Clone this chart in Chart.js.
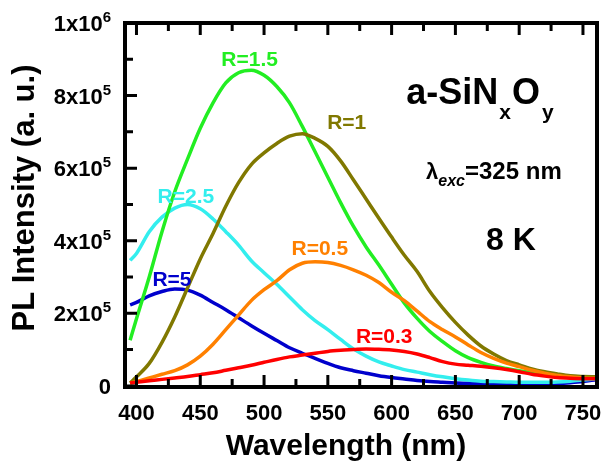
<!DOCTYPE html>
<html>
<head>
<meta charset="utf-8">
<script src="https://cdn.jsdelivr.net/npm/chart.js@4"></script>
<style>
  body { margin: 0; background: #fff; }
  canvas { display: block; }
</style>
</head>
<body>
<canvas id="plChart" width="604" height="463"></canvas>
<script>
// PL spectra of a-SiNxOy films at 8 K, intensities in units of 1e5 (a. u.)
const wavelengths = [395, 400, 410, 420, 430, 440, 450, 460, 470, 480, 490, 500, 510, 520, 530, 540, 550, 560, 570,
  580, 590, 600, 610, 620, 630, 640, 650, 660, 670, 680, 690, 700, 710, 720, 730, 740, 750, 760];

const r03 = [0.08, 0.10, 0.14, 0.18, 0.22, 0.26, 0.31, 0.36, 0.43, 0.50, 0.57, 0.65, 0.73, 0.80, 0.85, 0.90, 0.95, 0.98, 1.00,
  1.02, 1.01, 0.99, 0.95, 0.88, 0.78, 0.67, 0.60, 0.57, 0.54, 0.50, 0.45, 0.39, 0.32, 0.27, 0.23, 0.21, 0.20, 0.20];
const r05 = [0.08, 0.12, 0.22, 0.32, 0.42, 0.58, 0.82, 1.15, 1.55, 1.95, 2.35, 2.65, 2.90, 3.20, 3.38, 3.42, 3.40, 3.32, 3.20,
  3.05, 2.85, 2.58, 2.35, 2.06, 1.77, 1.55, 1.35, 1.13, 0.92, 0.76, 0.63, 0.53, 0.43, 0.35, 0.29, 0.25, 0.22, 0.21];
const r1 = [0.08, 0.25, 0.62, 1.20, 1.90, 2.70, 3.50, 4.20, 4.95, 5.60, 6.10, 6.42, 6.68, 6.88, 6.95, 6.82, 6.60, 6.20, 5.68,
  5.15, 4.62, 4.10, 3.60, 3.15, 2.60, 2.15, 1.75, 1.40, 1.10, 0.88, 0.70, 0.58, 0.47, 0.39, 0.33, 0.28, 0.26, 0.25];
const r15 = [1.26, 1.85, 3.00, 4.25, 5.35, 6.25, 7.10, 7.80, 8.35, 8.63, 8.70, 8.56, 8.25, 7.80, 7.15, 6.45, 5.75, 5.05, 4.40,
  3.83, 3.33, 2.80, 2.28, 1.86, 1.50, 1.22, 0.97, 0.78, 0.65, 0.55, 0.48, 0.42, 0.37, 0.33, 0.29, 0.26, 0.24, 0.23];
const r25 = [3.46, 3.65, 4.25, 4.65, 4.90, 5.00, 4.88, 4.60, 4.25, 3.88, 3.45, 3.12, 2.80, 2.45, 2.10, 1.80, 1.55, 1.28, 1.02,
  0.82, 0.66, 0.55, 0.45, 0.38, 0.31, 0.25, 0.20, 0.16, 0.13, 0.12, 0.11, 0.10, 0.10, 0.10, 0.11, 0.13, 0.16, 0.20];
const r5 = [2.23, 2.30, 2.48, 2.60, 2.67, 2.64, 2.50, 2.30, 2.10, 1.88, 1.66, 1.45, 1.25, 1.05, 0.90, 0.76, 0.62, 0.50, 0.42,
  0.35, 0.28, 0.23, 0.19, 0.15, 0.12, 0.10, 0.08, 0.07, 0.06, 0.06, 0.06, 0.06, 0.06, 0.06, 0.07, 0.09, 0.12, 0.17];

const seriesNames = ['R=0.3', 'R=0.5', 'R=1', 'R=1.5', 'R=2.5', 'R=5'];
const seriesValues = [r03, r05, r1, r15, r25, r5];
const seriesColors = ['#ff0000', '#ff8000', '#807800', '#22ee22', '#33eeee', '#0000cc'];

const xMajorTicks = [400, 450, 500, 550, 600, 650, 700, 750];
const xMinorTicks = [425, 475, 525, 575, 625, 675, 725];
const yMajorTicks = [0, 2e5, 4e5, 6e5, 8e5, 1e6];
const yMinorTicks = [1e5, 3e5, 5e5, 7e5, 9e5];

// curve labels anchored in data coordinates (left, baseline)
const curveLabels = [
  { text: 'R=1.5', x: 466.5, y: 8.82e5, color: '#22ee22' },
  { text: 'R=1', x: 549.5, y: 7.09e5, color: '#807800' },
  { text: 'R=2.5', x: 416.5, y: 5.05e5, color: '#33eeee' },
  { text: 'R=5', x: 412.5, y: 2.75e5, color: '#0000cc' },
  { text: 'R=0.5', x: 521.5, y: 3.6e5, color: '#ff8000' },
  { text: 'R=0.3', x: 572, y: 1.18e5, color: '#ff0000' }
];

const FONT = '"Liberation Sans", Arial, sans-serif';

const datasets = seriesValues.map((vals, i) => ({
  label: seriesNames[i],
  data: vals.map((v, j) => ({ x: wavelengths[j], y: v * 1e5 })),
  borderColor: seriesColors[i],
  borderWidth: 3.5,
  pointRadius: 0,
  fill: false,
  cubicInterpolationMode: 'monotone'
}));

// frame, inward ticks, tick labels, titles and annotations
const framePlugin = {
  id: 'framePlugin',
  afterDatasetsDraw(chart) {
    const { ctx, chartArea: a, scales: { x, y } } = chart;
    ctx.save();
    ctx.fillStyle = '#000';
    ctx.strokeStyle = '#000';

    // curve labels
    ctx.font = 'bold 21px ' + FONT;
    ctx.textAlign = 'left';
    ctx.textBaseline = 'alphabetic';
    curveLabels.forEach(l => {
      ctx.fillStyle = l.color;
      ctx.fillText(l.text, x.getPixelForValue(l.x), y.getPixelForValue(l.y));
    });

    // sample annotations
    ctx.fillStyle = '#000';
    let px = x.getPixelForValue(611.5), py = y.getPixelForValue(7.77e5);
    ctx.font = 'bold 36px ' + FONT;
    ctx.fillText('a-SiN', px, py); px += ctx.measureText('a-SiN').width;
    ctx.font = 'bold 21px ' + FONT;
    ctx.fillText('x', px + 1, py + 15); px += ctx.measureText('x').width + 2;
    ctx.font = 'bold 36px ' + FONT;
    ctx.fillText('O', px, py); px += ctx.measureText('O').width + 2;
    ctx.font = 'bold 21px ' + FONT;
    ctx.fillText('y', px, py + 15);

    px = x.getPixelForValue(627); py = y.getPixelForValue(5.71e5);
    ctx.font = 'bold 22px ' + FONT;
    ctx.fillText('λ', px, py); px += ctx.measureText('λ').width;
    ctx.font = 'italic bold 16px ' + FONT;
    ctx.fillText('exc', px, py + 7); px += ctx.measureText('exc').width;
    ctx.font = 'bold 24px ' + FONT;
    ctx.fillText('=325 nm', px, py);

    ctx.font = 'bold 32px ' + FONT;
    ctx.fillText('8 K', x.getPixelForValue(674), y.getPixelForValue(3.74e5));

    // frame
    ctx.lineWidth = 4;
    ctx.strokeRect(a.left, a.top, a.right - a.left, a.bottom - a.top);

    // ticks
    ctx.lineWidth = 3;
    ctx.beginPath();
    const xt = (v, len) => {
      const p = x.getPixelForValue(v);
      ctx.moveTo(p, a.bottom); ctx.lineTo(p, a.bottom - len);
      ctx.moveTo(p, a.top); ctx.lineTo(p, a.top + len);
    };
    xMajorTicks.forEach(v => xt(v, 12));
    xMinorTicks.forEach(v => xt(v, 8));
    const yt = (v, len) => {
      const p = y.getPixelForValue(v);
      ctx.moveTo(a.left, p); ctx.lineTo(a.left + len, p);
    };
    yMajorTicks.forEach(v => yt(v, 12));
    yMinorTicks.forEach(v => yt(v, 8));
    ctx.stroke();

    // x tick labels
    ctx.font = 'bold 22px ' + FONT;
    ctx.textAlign = 'center';
    xMajorTicks.forEach(v => ctx.fillText(String(v), x.getPixelForValue(v), 420));

    // y tick labels with superscript exponents
    const right = 111;
    yMajorTicks.forEach(v => {
      const p = y.getPixelForValue(v);
      ctx.textAlign = 'left';
      if (v === 0) {
        ctx.font = 'bold 22px ' + FONT;
        ctx.fillText('0', right - ctx.measureText('0').width, p + 8);
        return;
      }
      const exp = Math.floor(Math.log10(v) + 1e-9);
      const mant = Math.round(v / Math.pow(10, exp));
      const main = mant + 'x10', sup = String(exp);
      ctx.font = 'bold 15px ' + FONT;
      const ws = ctx.measureText(sup).width;
      ctx.font = 'bold 22px ' + FONT;
      const wm = ctx.measureText(main).width;
      const sx = right - ws - wm;
      ctx.fillText(main, sx, p + 8);
      ctx.font = 'bold 15px ' + FONT;
      ctx.fillText(sup, sx + wm, p - 1);
    });

    // axis titles
    ctx.textAlign = 'center';
    ctx.font = 'bold 30px ' + FONT;
    ctx.fillText('Wavelength (nm)', (a.left + a.right) / 2 - 15, 455);
    ctx.save();
    ctx.translate(34, 198);
    ctx.rotate(-Math.PI / 2);
    ctx.font = 'bold 31px ' + FONT;
    ctx.fillText('PL Intensity (a. u.)', 0, 0);
    ctx.restore();

    ctx.restore();
  }
};

new Chart(document.getElementById('plChart'), {
  type: 'line',
  data: { datasets },
  options: {
    responsive: false,
    animation: false,
    layout: { padding: { left: 125, right: 7, top: 23, bottom: 76 } },
    scales: {
      x: { type: 'linear', min: 391, max: 761, display: false },
      y: { type: 'linear', min: -3000, max: 1e6, display: false }
    },
    plugins: { legend: { display: false }, tooltip: { enabled: false } }
  },
  plugins: [framePlugin]
});
</script>
</body>
</html>
